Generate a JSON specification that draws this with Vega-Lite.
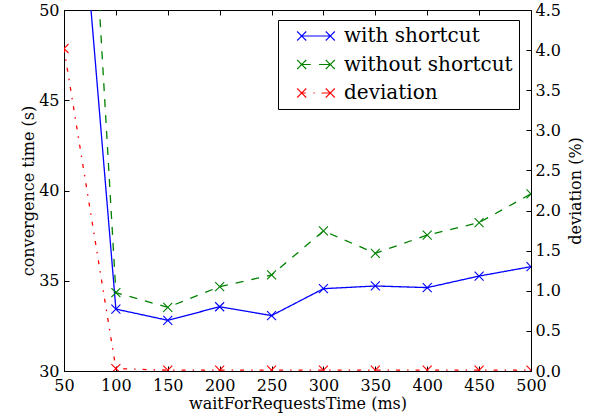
{
  "$schema": "https://vega.github.io/schema/vega-lite/v6.json",
  "autosize": {"type": "none"},
  "padding": {"left": 64, "top": 10, "right": 64, "bottom": 46},
  "width": 467,
  "height": 361,
  "background": "white",
  "config": {
    "font": "'DejaVu Serif', 'Liberation Serif', serif",
    "view": {"stroke": null},
    "axis": {
      "grid": false,
      "domain": true,
      "ticks": true,
      "domainColor": "black",
      "domainWidth": 1,
      "domainOpacity": 1,
      "tickColor": "black",
      "tickWidth": 1,
      "tickOpacity": 1,
      "tickSize": -5,
      "labelColor": "black",
      "labelFontSize": 16,
      "labelFont": "'DejaVu Serif', 'Liberation Serif', serif",
      "titleFont": "'DejaVu Serif', 'Liberation Serif', serif",
      "titleFontSize": 16,
      "titleFontWeight": "normal",
      "titleColor": "black",
      "labelOverlap": false,
      "labelFlush": false,
      "labelBound": false
    }
  },
  "data": {
    "values": [
      {"t": 50, "series": "with shortcut", "v": 68},
      {"t": 100, "series": "with shortcut", "v": 33.43},
      {"t": 150, "series": "with shortcut", "v": 32.81},
      {"t": 200, "series": "with shortcut", "v": 33.56},
      {"t": 250, "series": "with shortcut", "v": 33.07},
      {"t": 300, "series": "with shortcut", "v": 34.56},
      {"t": 350, "series": "with shortcut", "v": 34.71},
      {"t": 400, "series": "with shortcut", "v": 34.62},
      {"t": 450, "series": "with shortcut", "v": 35.26},
      {"t": 500, "series": "with shortcut", "v": 35.78},
      {"t": 50, "series": "without shortcut", "v": 84},
      {"t": 100, "series": "without shortcut", "v": 34.34},
      {"t": 150, "series": "without shortcut", "v": 33.53},
      {"t": 200, "series": "without shortcut", "v": 34.67},
      {"t": 250, "series": "without shortcut", "v": 35.32},
      {"t": 300, "series": "without shortcut", "v": 37.76},
      {"t": 350, "series": "without shortcut", "v": 36.52},
      {"t": 400, "series": "without shortcut", "v": 37.53},
      {"t": 450, "series": "without shortcut", "v": 38.22},
      {"t": 500, "series": "without shortcut", "v": 39.81},
      {"t": 50, "series": "deviation", "v": 4.02},
      {"t": 100, "series": "deviation", "v": 0.03},
      {"t": 150, "series": "deviation", "v": 0.01},
      {"t": 200, "series": "deviation", "v": 0.01},
      {"t": 250, "series": "deviation", "v": 0.01},
      {"t": 300, "series": "deviation", "v": 0.01},
      {"t": 350, "series": "deviation", "v": 0.01},
      {"t": 400, "series": "deviation", "v": 0.01},
      {"t": 450, "series": "deviation", "v": 0.01},
      {"t": 500, "series": "deviation", "v": 0.01}
    ]
  },
  "encoding": {
    "x": {
      "field": "t",
      "type": "quantitative",
      "scale": {"domain": [50, 500], "nice": false, "zero": false}
    },
    "color": {
      "field": "series",
      "type": "nominal",
      "scale": {
        "domain": ["with shortcut", "without shortcut", "deviation"],
        "range": ["#0000ff", "#008000", "#ff0000"]
      },
      "legend": {
        "title": null,
        "orient": "none",
        "legendX": 214,
        "legendY": 10,
        "padding": 6,
        "strokeColor": "black",
        "fillColor": "white",
        "cornerRadius": 0,
        "symbolSize": 4,
        "symbolStrokeWidth": 1.2,
        "symbolOffset": 22,
        "labelOffset": 18,
        "labelFontSize": 20,
        "labelFont": "'DejaVu Serif', 'Liberation Serif', serif",
        "labelColor": "black",
        "rowPadding": 8.5,
        "labelLimit": 400,
        "encode": {
          "symbols": {
            "update": {
              "shape": {"signal": "datum.value === 'with shortcut' ? 'M-14.3,0L14.3,0M-18.8,-4.5L-9.8,4.5M-18.8,4.5L-9.8,-4.5M9.8,-4.5L18.8,4.5M9.8,4.5L18.8,-4.5' : datum.value === 'without shortcut' ? 'M-14.3,0L-5.3,0M3,0L14.3,0M-18.8,-4.5L-9.8,4.5M-18.8,4.5L-9.8,-4.5M9.8,-4.5L18.8,4.5M9.8,4.5L18.8,-4.5' : 'M-14.3,0L-10.3,0M-2.5,0L-1.2,0M5.5,0L14.3,0M-18.8,-4.5L-9.8,4.5M-18.8,4.5L-9.8,-4.5M9.8,-4.5L18.8,4.5M9.8,4.5L18.8,-4.5'"},
              "fill": {"value": "transparent"},
              "strokeDash": {"value": [1, 0]},
              "opacity": {"value": 1}
            }
          }
        }
      }
    }
  },
  "layer": [
    {
      "transform": [{"filter": "datum.series !== 'deviation'"}],
      "encoding": {
        "x": {
          "field": "t",
          "type": "quantitative",
          "axis": {
            "orient": "bottom",
            "values": [50, 100, 150, 200, 250, 300, 350, 400, 450, 500],
            "labelPadding": 11,
            "title": "waitForRequestsTime (ms)",
            "titlePadding": 2
          }
        },
        "y": {
          "field": "v",
          "type": "quantitative",
          "scale": {"domain": [30, 50], "nice": false, "zero": false},
          "axis": {
            "orient": "left",
            "values": [30, 35, 40, 45, 50],
            "labelPadding": 10,
            "title": "convergence time (s)",
            "titlePadding": 2
          }
        }
      },
      "layer": [
        {
          "mark": {"type": "line", "clip": true, "strokeWidth": 1.3},
          "encoding": {
            "strokeDash": {
              "field": "series",
              "type": "nominal",
              "scale": {
                "domain": ["with shortcut", "without shortcut"],
                "range": [[1, 0], [8, 8]]
              },
              "legend": null
            }
          }
        },
        {
          "mark": {"type": "point", "clip": true, "shape": "M-1,-1L1,1M-1,1L1,-1", "size": 81, "filled": false, "strokeWidth": 1.1, "opacity": 1}
        }
      ]
    },
    {
      "transform": [{"filter": "datum.series === 'deviation'"}],
      "encoding": {
        "x": {
          "field": "t",
          "type": "quantitative",
          "axis": {
            "orient": "top",
            "values": [50, 100, 150, 200, 250, 300, 350, 400, 450, 500],
            "labels": false,
            "title": null
          }
        },
        "y": {
          "field": "v",
          "type": "quantitative",
          "scale": {"domain": [0, 4.5], "nice": false, "zero": false},
          "axis": {
            "orient": "right",
            "values": [0, 0.5, 1, 1.5, 2, 2.5, 3, 3.5, 4, 4.5],
            "format": ".1f",
            "labelPadding": 9,
            "title": "deviation (%)",
            "titleAngle": 270,
            "titleX": 44,
            "titleY": 180.5,
            "titleAlign": "center",
            "titleBaseline": "middle"
          }
        }
      },
      "layer": [
        {
          "mark": {"type": "line", "clip": true, "strokeWidth": 1.3, "strokeDash": [4, 7, 1.5, 7]}
        },
        {
          "mark": {"type": "point", "clip": true, "shape": "M-1,-1L1,1M-1,1L1,-1", "size": 81, "filled": false, "strokeWidth": 1.1, "opacity": 1}
        }
      ]
    }
  ],
  "resolve": {"scale": {"y": "independent"}, "axis": {"x": "independent"}}
}
